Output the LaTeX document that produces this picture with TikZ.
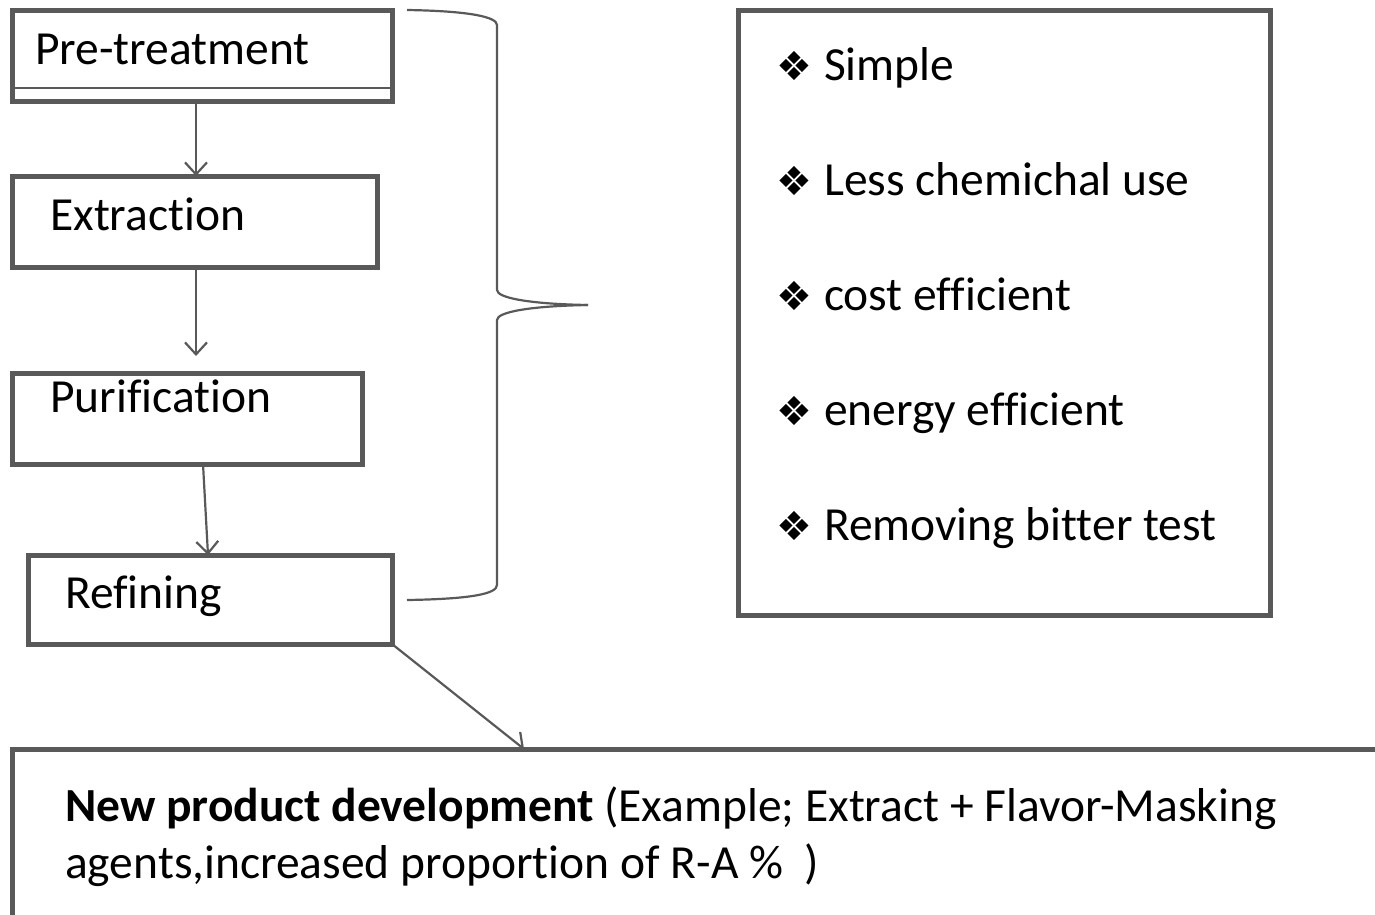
\documentclass[tikz,border=0pt]{standalone}
\usepackage{fontspec}
\setmainfont{Carlito}[Ligatures=NoCommon]
\newfontfamily\symfont{DejaVu Sans}
\usetikzlibrary{arrows.meta,calc}
\definecolor{edgegray}{HTML}{595959}
\tikzset{
  stepbox/.style={draw=edgegray, line width=5, rectangle, anchor=north west, inner sep=0, outer sep=0},
  conn/.style={draw=edgegray, line width=2.2, -{Straight Barb[length=12, width=22, line width=2.2]}},
  bracel/.style={draw=edgegray, line width=2.2},
  lbl/.style={anchor=base west, inner sep=0, font=\fontsize{47.5}{57}\selectfont},
  item/.style={anchor=base west, inner sep=0, font=\fontsize{47.5}{57}\selectfont},
}
\newcommand{\diam}{{\symfont\fontsize{40}{48}\selectfont\char"2756}}
\begin{document}
\begin{tikzpicture}[x=1pt,y=-1pt]
\useasboundingbox (0,0) rectangle (1375,914);
\clip (0,0) rectangle (1375,914);
% boxes
\node[stepbox, minimum width=380, minimum height=91] (pre) at (12,10) {};
\draw[edgegray, line width=1.8] ($(pre.south west)+(0,-13)$) coordinate (pl) -- ($(pre.south east)+(0,-13)$) coordinate (pr);
\node[stepbox, minimum width=365, minimum height=91] (ext) at (12,176) {};
\node[stepbox, minimum width=350, minimum height=91] (pur) at (12,373) {};
\node[stepbox, minimum width=364, minimum height=89] (ref) at (28,555) {};
\node[stepbox, minimum width=532, minimum height=605] (adv) at (738,10) {};
\node[stepbox, minimum width=1420, minimum height=220] (npd) at (12,749) {};
% labels
\node[lbl] (tpre) at (35,64) {Pre-treatment};
\node[lbl] (text) at (50,230) {Extraction};
\node[lbl] (tpur) at (50,412) {Purification};
\node[lbl] (tref) at (65,608) {Refining};
% arrows
\coordinate (a1s) at ($(pre.south west)+(184,0)$);
\coordinate (a1e) at ($(ext.north west)+(184,0)$);
\draw[conn] (a1s) -- (a1e);
\coordinate (a2s) at ($(ext.south west)+(184,0)$);
\coordinate (a2e) at ($(pur.north west)+(184,-17)$);
\draw[conn] (a2s) -- (a2e);
\coordinate (p3s) at ($(pur.south west)+(191,0)$);
\coordinate (p3e) at ($(ref.north west)+(180,0)$);
\draw[conn] (p3s) -- (p3e);
\draw[conn] (ref.south east) -- ($(npd.north west)+(512,0)$);
% brace
\coordinate (bt) at (407,10);
\coordinate (bb) at (407,600);
\coordinate (btip) at (588,305);
\draw[bracel] (bt) .. controls (470,11) and (497,17) .. (497,25)
  -- (497,290) .. controls (497,298) and (530,304) .. (btip);
\draw[bracel] (btip) .. controls (530,306) and (497,312) .. (497,320)
  -- (497,585) .. controls (497,594) and (470,599) .. (bb);
% items
\node[item] (i1) at (776,80) {\diam\hspace{12pt}Simple};
\node[item] (i2) at (776,195) {\diam\hspace{12pt}Less chemichal use};
\node[item] (i3) at (776,310) {\diam\hspace{12pt}cost efficient};
\node[item] (i4) at (776,425) {\diam\hspace{12pt}energy efficient};
\node[item] (i5) at (776,540) {\diam\hspace{12pt}Removing bitter test};
% bottom text
\node[lbl] (n1) at (65,821) {\textbf{New product development} (Example; Extract + Flavor-Masking};
\node[lbl] (n2) at (65,878) {agents,increased proportion of R-A \%\ \ )};
\end{tikzpicture}
\end{document}
